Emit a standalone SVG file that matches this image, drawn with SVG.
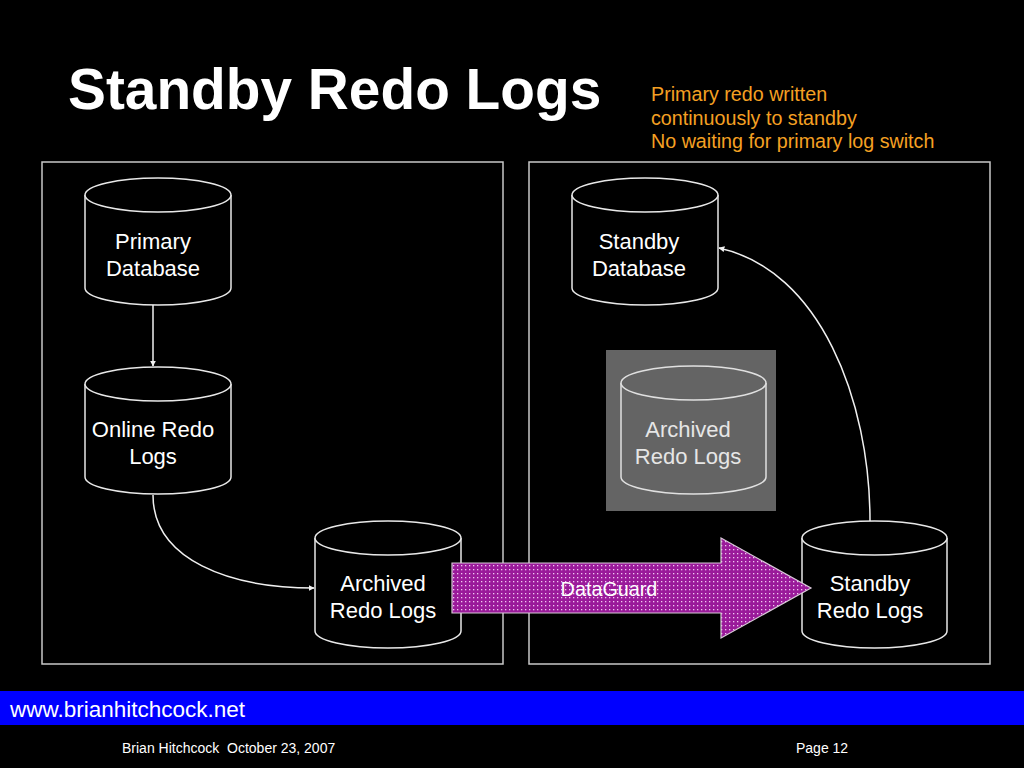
<svg xmlns="http://www.w3.org/2000/svg" width="1024" height="768" viewBox="0 0 1024 768">
<style>
.panel{fill:none;stroke:#c8c8c8;stroke-width:1.5}
.cyl{fill:#000;stroke:#e8e8e8;stroke-width:1.5}
.cylg{fill:#646464;stroke:#e0e0e0;stroke-width:1.5}
.lbl{font-family:"Liberation Sans",Arial,sans-serif;font-size:22px;fill:#fff;text-anchor:middle}
.lblg{font-family:"Liberation Sans",Arial,sans-serif;font-size:22px;fill:#e6e6e6;text-anchor:middle}
.conn{fill:none;stroke:#f0f0f0;stroke-width:1.5}
.note{font-family:"Liberation Sans",Arial,sans-serif;font-size:19.7px;fill:#f5a023}
</style>
<defs>
<marker id="ah" viewBox="0 0 10 10" refX="9" refY="5" markerWidth="6" markerHeight="6" markerUnits="userSpaceOnUse" orient="auto">
<path d="M0,0 L10,5 L0,10 z" fill="#f0f0f0"/>
</marker>
<pattern id="dots" width="4" height="4" patternUnits="userSpaceOnUse">
<rect width="4" height="4" fill="#9a1a9a"/>
<rect x="1" y="1" width="1.3" height="1.3" fill="#f2c8f2"/>
</pattern>
</defs>
<rect width="1024" height="768" fill="#000"/>
<text x="68" y="109" font-family="Liberation Sans,Arial,sans-serif" font-size="56.8" font-weight="bold" fill="#fff">Standby Redo Logs</text>
<g id="note">
<text class="note" x="651" y="101">Primary redo written</text>
<text class="note" x="651" y="125">continuously to standby</text>
<text class="note" x="651" y="148">No waiting for primary log switch</text>
</g>
<g id="panels">
<rect class="panel" x="42" y="162" width="461" height="502"/>
<rect class="panel" x="529" y="162" width="461" height="502"/>
</g>
<g id="grayBox">
<rect x="606" y="350" width="170" height="161" fill="#646464"/>
</g>
<g id="primaryDb">
<path class="cyl" d="M85,195 L85,288 A73,17 0 0 0 231,288 L231,195"/>
<ellipse class="cyl" cx="158" cy="195" rx="73" ry="17"/>
<text class="lbl" x="153" y="249">Primary</text>
<text class="lbl" x="153" y="276">Database</text>
</g>
<g id="onlineRedo">
<path class="cyl" d="M85,384 L85,477 A73,17 0 0 0 231,477 L231,384"/>
<ellipse class="cyl" cx="158" cy="384" rx="73" ry="17"/>
<text class="lbl" x="153" y="437">Online Redo</text>
<text class="lbl" x="153" y="464">Logs</text>
</g>
<g id="archivedLeft">
<path class="cyl" d="M315,538 L315,631 A73,17 0 0 0 461,631 L461,538"/>
<ellipse class="cyl" cx="388" cy="538" rx="73" ry="17"/>
<text class="lbl" x="383" y="591">Archived</text>
<text class="lbl" x="383" y="618">Redo Logs</text>
</g>
<g id="standbyDb">
<path class="cyl" d="M572,195 L572,288 A73,17 0 0 0 718,288 L718,195"/>
<ellipse class="cyl" cx="645" cy="195" rx="73" ry="17"/>
<text class="lbl" x="639" y="249">Standby</text>
<text class="lbl" x="639" y="276">Database</text>
</g>
<g id="archivedRight">
<path class="cylg" d="M621,383 L621,477 A72.5,17 0 0 0 766,477 L766,383"/>
<ellipse class="cylg" cx="693.5" cy="383" rx="72.5" ry="17"/>
<text class="lblg" x="688" y="437">Archived</text>
<text class="lblg" x="688" y="464">Redo Logs</text>
</g>
<g id="standbyRedo">
<path class="cyl" d="M802,538 L802,631 A72.5,17 0 0 0 947,631 L947,538"/>
<ellipse class="cyl" cx="874.5" cy="538" rx="72.5" ry="17"/>
<text class="lbl" x="870" y="591">Standby</text>
<text class="lbl" x="870" y="618">Redo Logs</text>
</g>
<g id="connectors">
<path class="conn" d="M153,305 L153,366" marker-end="url(#ah)"/>
<path class="conn" d="M153,495 C153,560 230,588 314,588" marker-end="url(#ah)"/>
<path class="conn" d="M870,521 C870,400 820,270 719,248" marker-end="url(#ah)"/>
</g>
<g id="dataguard">
<path d="M452,563 L721,563 L721,538 L811,588 L721,638 L721,613 L452,613 z" fill="url(#dots)" stroke="#d8c8d8" stroke-width="1.2"/>
<text x="609" y="596" font-family="Liberation Sans,Arial,sans-serif" font-size="19.8" fill="#fff" text-anchor="middle">DataGuard</text>
</g>
<g id="footer">
<rect x="0" y="691" width="1024" height="34" fill="#0000ff"/>
<text x="10" y="717" font-family="Liberation Sans,Arial,sans-serif" font-size="22.5" fill="#fff">www.brianhitchcock.net</text>
<text x="122" y="753" font-family="Liberation Sans,Arial,sans-serif" font-size="14" fill="#fff" xml:space="preserve">Brian Hitchcock  October 23, 2007</text>
<text x="796" y="753" font-family="Liberation Sans,Arial,sans-serif" font-size="14" fill="#fff">Page 12</text>
</g>
</svg>
